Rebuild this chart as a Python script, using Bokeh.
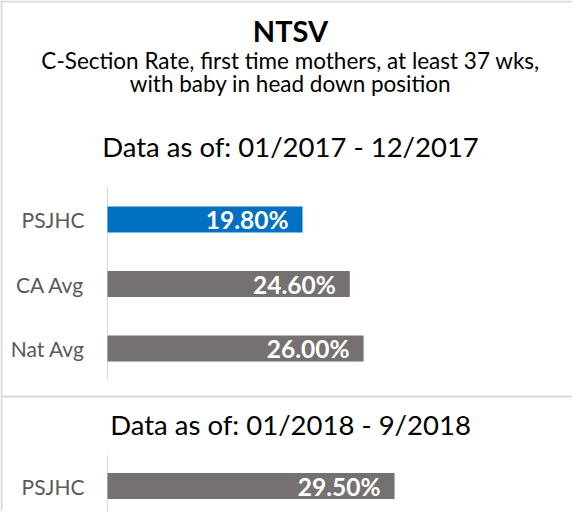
from bokeh.plotting import figure
from bokeh.models import Range1d, ColumnDataSource, Span
from bokeh.embed import file_html
from bokeh.resources import INLINE
from bokeh.core.properties import value

# ---- data ----
title = "NTSV"
subtitle_1 = "C-Section Rate, first time mothers, at least 37 wks,"
subtitle_2 = "with baby in head down position"
period_2017 = "Data as of: 01/2017 - 12/2017"
period_2018 = "Data as of: 01/2018 - 9/2018"

cats_2017 = ["PSJHC", "CA Avg", "Nat Avg"]
vals_2017 = [19.8, 24.6, 26.0]
cats_2018 = ["PSJHC"]
vals_2018 = [29.5]

# ---- layout constants ----
W, H = 572, 511
FONT = "Lato"
BLUE = "#0070C0"
GRAY = "#767171"
LINE = "#d9d9d9"
origin = 107          # canvas px where value 0 sits
k_top = 9.85          # px per unit, top panel
k_bot = 9.73          # px per unit, bottom panel

p = figure(width=W, height=H, output_backend="svg", toolbar_location=None,
           x_range=Range1d(-origin / k_top, (W - origin) / k_top),
           y_range=Range1d(519, 8), min_border=0, outline_line_color=None)
p.extra_x_ranges = {"bot": Range1d(-origin / k_bot, (W - origin) / k_bot)}
p.axis.visible = False
p.grid.visible = False
p.background_fill_color = "white"
p.border_fill_color = "white"

# frame lines
p.add_layout(Span(location=-origin / k_top + 1 / k_top, dimension="height",
                  line_color=LINE, line_width=2))
p.add_layout(Span(location=9, dimension="width", line_color=LINE, line_width=2))
p.add_layout(Span(location=404, dimension="width", line_color=LINE, line_width=2))

# titles (centre of panel, in data units of the top scale)
cx = (290 - origin) / k_top
for txt, y, size, style in [(title, 38, "29px", "bold"),
                            (subtitle_1, 68, "22.5px", "normal"),
                            (subtitle_2, 91, "22.5px", "normal"),
                            (period_2017, 154, "27.5px", "normal"),
                            (period_2018, 432, "27.5px", "normal")]:
    p.text(x=[cx], y=[y], text=[txt], text_font=value(FONT),
           text_font_size=size, text_font_style=style, text_color="black",
           text_align="center", text_baseline="alphabetic")

# top panel
y_top = [227 + i * 64.5 for i in range(len(cats_2017))]
src_top = ColumnDataSource(dict(
    y=y_top, v=vals_2017, cat=cats_2017,
    lab=[f"{v:.2f}%" for v in vals_2017],
    color=[BLUE] + [GRAY] * (len(vals_2017) - 1)))
p.segment(x0=0, x1=0, y0=194, y1=387, line_color=LINE, line_width=1)
p.hbar(y="y", left=0, right="v", height=26, fill_color="color",
       line_color=None, source=src_top)
p.text(x=0, y="y", text="cat", x_offset=-23, text_align="right",
       text_baseline="middle", text_font=value(FONT), text_font_size="21px",
       text_color="#595959", source=src_top)
p.text(x="v", y="y", text="lab", x_offset=-14, text_align="right",
       text_baseline="middle", text_font=value(FONT), text_font_size="24.5px",
       text_font_style="bold", text_color="white", source=src_top)

# bottom panel
y_bot = [493.5 + i * 64.5 for i in range(len(cats_2018))]
src_bot = ColumnDataSource(dict(
    y=y_bot, v=vals_2018, cat=cats_2018,
    lab=[f"{v:.2f}%" for v in vals_2018]))
p.segment(x0=0, x1=0, y0=463, y1=523, line_color=LINE, line_width=1,
          x_range_name="bot")
p.hbar(y="y", left=0, right="v", height=26, fill_color=GRAY,
       line_color=None, source=src_bot, x_range_name="bot")
p.text(x=0, y="y", text="cat", x_offset=-23, text_align="right",
       text_baseline="middle", text_font=value(FONT), text_font_size="21px",
       text_color="#595959", source=src_bot, x_range_name="bot")
p.text(x="v", y="y", text="lab", x_offset=-14, text_align="right",
       text_baseline="middle", text_font=value(FONT), text_font_size="24.5px",
       text_font_style="bold", text_color="white", source=src_bot,
       x_range_name="bot")

open("out.html", "w").write(file_html(p, INLINE))
